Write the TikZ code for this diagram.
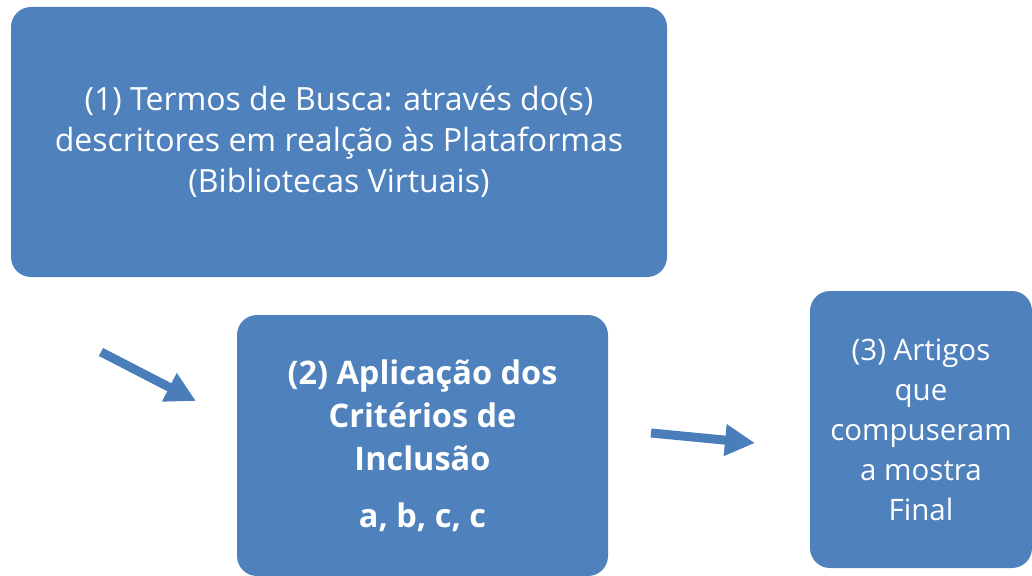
\documentclass[tikz,border=0pt]{standalone}
\usepackage{fontspec}
\setmainfont{Open Sans}
\usetikzlibrary{arrows.meta}
\definecolor{boxblue}{HTML}{4F81BD}
\definecolor{arrowblue}{HTML}{4A7EBB}
\tikzset{
  bluebox/.style={rectangle, rounded corners=20pt, fill=boxblue, draw=none,
    text=white, align=center, inner sep=0pt},
  fatarrow/.style={draw=arrowblue, line width=9pt,
    -{Triangle[width=30pt,length=30pt]}, arrowblue}
}
\begin{document}
\begin{tikzpicture}[x=1pt,y=-1pt]
\useasboundingbox (0,0) rectangle (1032,575);
\clip (0,0) rectangle (1032,575);
\node[bluebox, minimum width=656pt, minimum height=270pt,
  font=\fontsize{32}{41}\selectfont] (b1) at (339,142)
  {(1) Termos de Busca: através do(s)\\descritores em realção às Plataformas\\(Bibliotecas Virtuais)};
\node[bluebox, minimum width=371pt, minimum height=261pt,
  font=\bfseries\fontsize{32.5}{43}\selectfont] (b2) at (422.5,445.5)
  {(2) Aplicação dos\\Critérios de\\Inclusão\\[14pt]a, b, c, c};
\node[bluebox, minimum width=222pt, minimum height=277pt,
  font=\fontsize{29.5}{40}\selectfont] (b3) at (921,429.5)
  {(3) Artigos\\que\\compuseram\\a mostra\\Final};
\coordinate (a1s) at (101,352);
\coordinate (a1e) at (196,401);
\coordinate (a2s) at (651,433);
\coordinate (a2e) at (755,443);
\draw[fatarrow] (a1s) -- (a1e);
\draw[fatarrow] (a2s) -- (a2e);
\end{tikzpicture}
\end{document}
